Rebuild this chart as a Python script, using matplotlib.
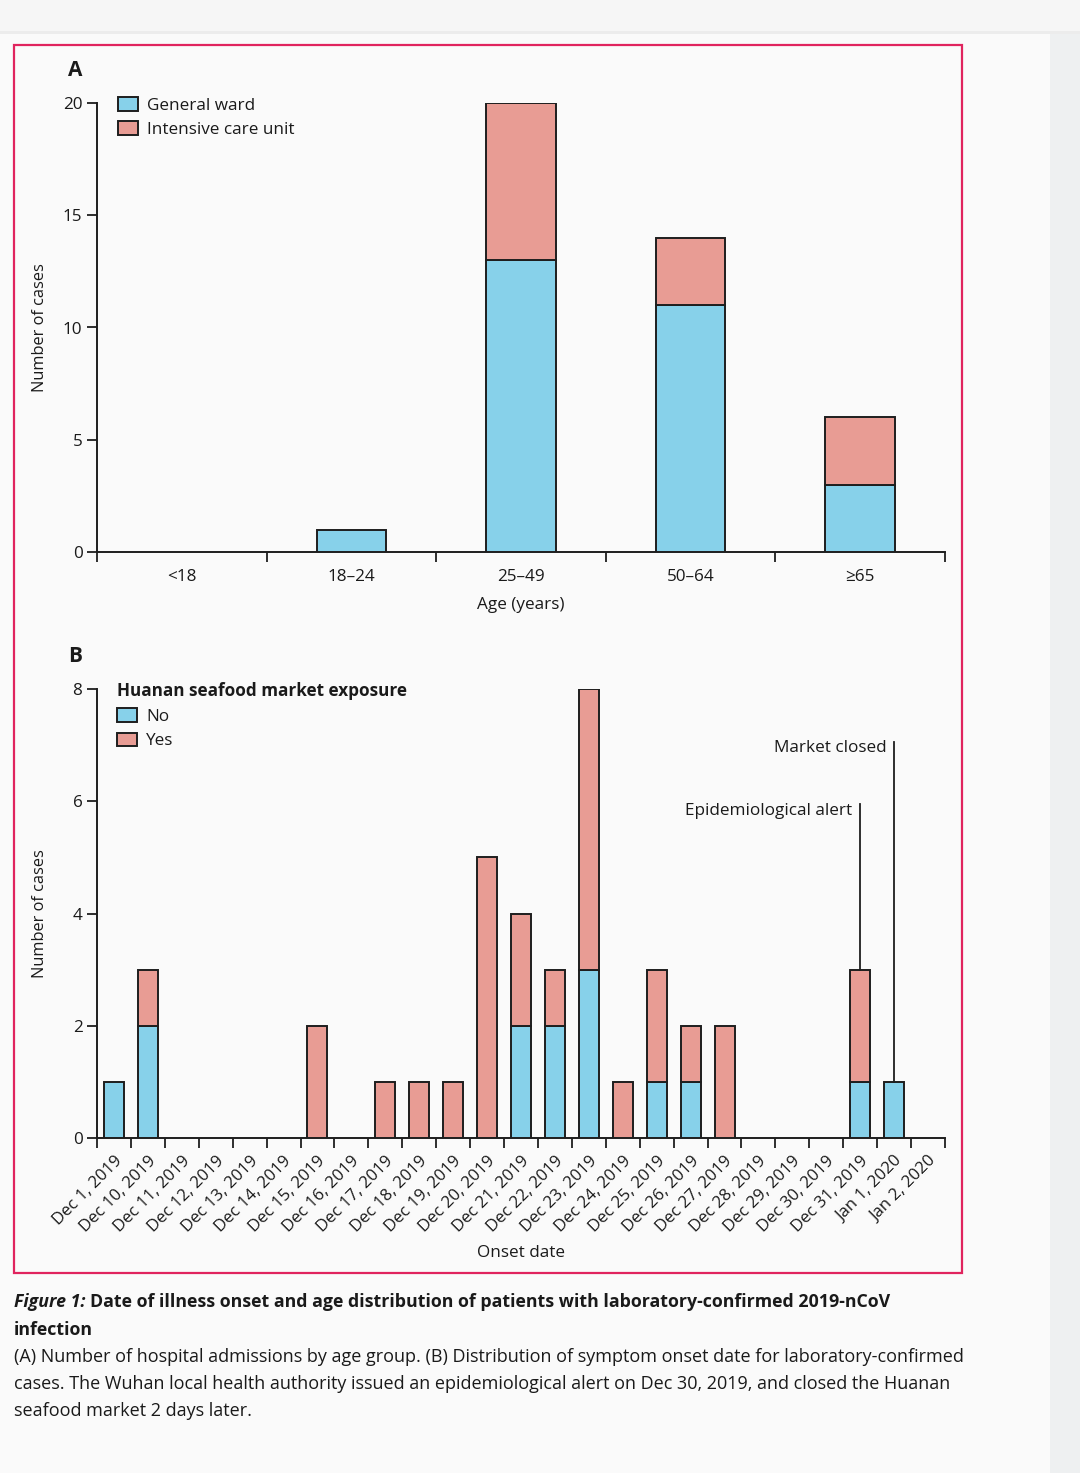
import matplotlib
matplotlib.use("Agg")
import matplotlib.pyplot as plt
from matplotlib.patches import Rectangle, Patch
from matplotlib import font_manager
import numpy as np

# ---------------- data ----------------
age_groups = ["<18", "18\u201324", "25\u201349", "50\u201364", "\u226565"]
general_ward = [0, 1, 13, 11, 3]
icu = [0, 0, 7, 3, 3]

onset_dates = ["Dec 1, 2019", "Dec 10, 2019", "Dec 11, 2019", "Dec 12, 2019",
               "Dec 13, 2019", "Dec 14, 2019", "Dec 15, 2019", "Dec 16, 2019",
               "Dec 17, 2019", "Dec 18, 2019", "Dec 19, 2019", "Dec 20, 2019",
               "Dec 21, 2019", "Dec 22, 2019", "Dec 23, 2019", "Dec 24, 2019",
               "Dec 25, 2019", "Dec 26, 2019", "Dec 27, 2019", "Dec 28, 2019",
               "Dec 29, 2019", "Dec 30, 2019", "Dec 31, 2019", "Jan 1, 2020",
               "Jan 2, 2020"]
exposure_no = [1, 2, 0, 0, 0, 0, 0, 0, 0, 0, 0, 0, 2, 2, 3, 0, 1, 1, 0, 0, 0, 0, 1, 1, 0]
exposure_yes = [0, 1, 0, 0, 0, 0, 2, 0, 1, 1, 1, 5, 2, 1, 5, 1, 2, 1, 2, 0, 0, 0, 2, 0, 0]
alert_date = "Dec 31, 2019"
closed_date = "Jan 1, 2020"

# ---------------- style ----------------
avail = {f.name for f in font_manager.fontManager.ttflist}
main_font = "Open Sans" if "Open Sans" in avail else "DejaVu Sans"
plt.rcParams["font.family"] = [main_font, "DejaVu Sans"]
FS = 11.8

BLUE = "#87d1ea"
PINK = "#e89c94"
EDGE = "#1e1e1e"
TXT = "#1a1a1a"
BG = "#fafafa"

W, H = 1080, 1473
fig = plt.figure(figsize=(W / 100, H / 100), dpi=100)
fig.patch.set_facecolor(BG)

def px_rect(x0, y0, x1, y1, **kw):
    r = Rectangle((x0 / W, 1 - y1 / H), (x1 - x0) / W, (y1 - y0) / H,
                  transform=fig.transFigure, **kw)
    fig.patches.append(r)

# page decoration
px_rect(0, 0, W, 31, facecolor="#f6f6f6", edgecolor="none", zorder=0)
px_rect(0, 31, W, 34, facecolor="#ececec", edgecolor="none", zorder=0)
px_rect(1050, 34, W, H, facecolor="#eef0f1", edgecolor="none", zorder=0)
px_rect(14, 45, 962, 1273, facecolor="none", edgecolor="#e0245e", linewidth=1.6, zorder=1)

def ax_rect(x0, y0, x1, y1):
    return [x0 / W, 1 - y1 / H, (x1 - x0) / W, (y1 - y0) / H]

def style_axes(ax):
    ax.set_facecolor("none")
    for s in ["top", "right"]:
        ax.spines[s].set_visible(False)
    for s in ["left", "bottom"]:
        ax.spines[s].set_linewidth(1.4)
        ax.spines[s].set_color(EDGE)
    ax.tick_params(axis="both", which="major", direction="out", length=7,
                   width=1.3, color=EDGE, labelsize=FS + 0.5, labelcolor=TXT)
    ax.tick_params(axis="x", which="minor", length=0)

LEG_KW = dict(loc="upper left", frameon=False, fontsize=FS + 0.5, handlelength=1.15,
              handleheight=0.85, handletextpad=0.55, labelspacing=0.45,
              borderaxespad=0, borderpad=0)

# ---------------- panel A ----------------
axA = fig.add_axes(ax_rect(97, 103, 945, 552))
style_axes(axA)
xa = np.arange(len(age_groups))
axA.bar(xa, general_ward, width=0.41, color=BLUE, edgecolor=EDGE, linewidth=1.4, zorder=3)
axA.bar(xa, icu, width=0.41, bottom=general_ward, color=PINK, edgecolor=EDGE,
        linewidth=1.4, zorder=3)
for c in axA.containers:
    for p in c.patches:
        if p.get_height() == 0:
            p.set_visible(False)
axA.set_xlim(-0.5, len(age_groups) - 0.5)
axA.set_ylim(0, 20)
axA.set_yticks([0, 5, 10, 15, 20])
axA.set_xticks(np.arange(len(age_groups) + 1) - 0.5)
axA.set_xticklabels([])
axA.set_xticks(xa, minor=True)
axA.set_xticklabels(age_groups, minor=True, fontsize=FS + 0.5, color=TXT)
axA.tick_params(axis="x", which="minor", pad=12)
axA.set_xlabel("Age (years)", fontsize=FS + 0.5, color=TXT, labelpad=9)
axA.set_ylabel("Number of cases", fontsize=FS, color=TXT)
axA.yaxis.set_label_coords(-0.0578, 0.5)
hA = [Patch(facecolor=BLUE, edgecolor=EDGE, linewidth=1.4, label="General ward"),
      Patch(facecolor=PINK, edgecolor=EDGE, linewidth=1.4, label="Intensive care unit")]
legA = axA.legend(handles=hA, bbox_to_anchor=(0.0248, 1.0135), **LEG_KW)
for t in legA.get_texts():
    t.set_color(TXT)
fig.text(75 / W, 1 - 70 / H, "A", fontsize=15, fontweight="bold", ha="center",
         va="center", color=TXT)

# ---------------- panel B ----------------
axB = fig.add_axes(ax_rect(97, 689, 945, 1138))
style_axes(axB)
xb = np.arange(len(onset_dates))
axB.bar(xb, exposure_no, width=0.59, color=BLUE, edgecolor=EDGE, linewidth=1.4, zorder=3)
axB.bar(xb, exposure_yes, width=0.59, bottom=exposure_no, color=PINK,
        edgecolor=EDGE, linewidth=1.4, zorder=3)
for c in axB.containers:
    for p in c.patches:
        if p.get_height() == 0:
            p.set_visible(False)
axB.set_xlim(-0.5, len(onset_dates) - 0.5)
axB.set_ylim(0, 8)
axB.set_yticks([0, 2, 4, 6, 8])
axB.set_xticks(np.arange(len(onset_dates) + 1) - 0.5)
axB.set_xticklabels([])
axB.set_xticks(xb, minor=True)
axB.set_xticklabels(onset_dates, minor=True, rotation=45, ha="right",
                    rotation_mode="anchor", fontsize=FS + 0.3, color=TXT)
axB.tick_params(axis="x", which="minor", pad=11)
axB.set_xlabel("Onset date", fontsize=FS + 0.5, color=TXT, labelpad=7)
axB.set_ylabel("Number of cases", fontsize=FS, color=TXT)
axB.yaxis.set_label_coords(-0.0578, 0.5)
hB = [Patch(facecolor=BLUE, edgecolor=EDGE, linewidth=1.4, label="No"),
      Patch(facecolor=PINK, edgecolor=EDGE, linewidth=1.4, label="Yes")]
legB = axB.legend(handles=hB, bbox_to_anchor=(0.0235, 1.0145),
                  title="Huanan seafood market exposure",
                  title_fontproperties={"weight": "bold", "size": FS + 0.5}, **LEG_KW)
legB._legend_box.align = "left"
legB.get_title().set_color(TXT)
for t in legB.get_texts():
    t.set_color(TXT)
fig.text(75 / W, 1 - 656 / H, "B", fontsize=15, fontweight="bold", ha="center",
         va="center", color=TXT)

# event markers
totals = np.array(exposure_no) + np.array(exposure_yes)
ia = onset_dates.index(alert_date)
ic = onset_dates.index(closed_date)
axB.plot([ia, ia], [totals[ia], 5.95], color=EDGE, lw=1.3, zorder=4)
axB.plot([ic, ic], [totals[ic], 7.05], color=EDGE, lw=1.3, zorder=4)
axB.text(ia - 0.23, 5.83, "Epidemiological alert", ha="right", va="center",
         fontsize=FS + 0.5, color=TXT)
axB.text(ic - 0.23, 6.94, "Market closed", ha="right", va="center",
         fontsize=FS + 0.5, color=TXT)

# ---------------- caption ----------------
cf = [main_font, "DejaVu Sans"]
t1 = fig.text(14 / W, 1 - 1302 / H, "Figure 1:", fontsize=12.75,
              fontweight="bold", fontstyle="italic", family=cf,
              ha="left", va="center", color=TXT)
fig.canvas.draw()
bb = t1.get_window_extent()
fig.text((bb.x1 + 4) / W, 1 - 1302 / H,
         "Date of illness onset and age distribution of patients with laboratory-confirmed 2019-nCoV",
         fontsize=12.75, fontweight="bold", family=cf,
         ha="left", va="center", color=TXT)
fig.text(14 / W, 1 - 1330 / H, "infection", fontsize=12.75, fontweight="bold",
         family=cf, ha="left", va="center", color=TXT)
body = ["(A) Number of hospital admissions by age group. (B) Distribution of symptom onset date for laboratory-confirmed",
        "cases. The Wuhan local health authority issued an epidemiological alert on Dec 30, 2019, and closed the Huanan",
        "seafood market 2 days later."]
for i, line in enumerate(body):
    fig.text(14 / W, 1 - (1357 + 27 * i) / H, line, fontsize=13,
             family=cf, ha="left", va="center", color=TXT)

fig.savefig("out.png", dpi=100, facecolor=fig.get_facecolor())
